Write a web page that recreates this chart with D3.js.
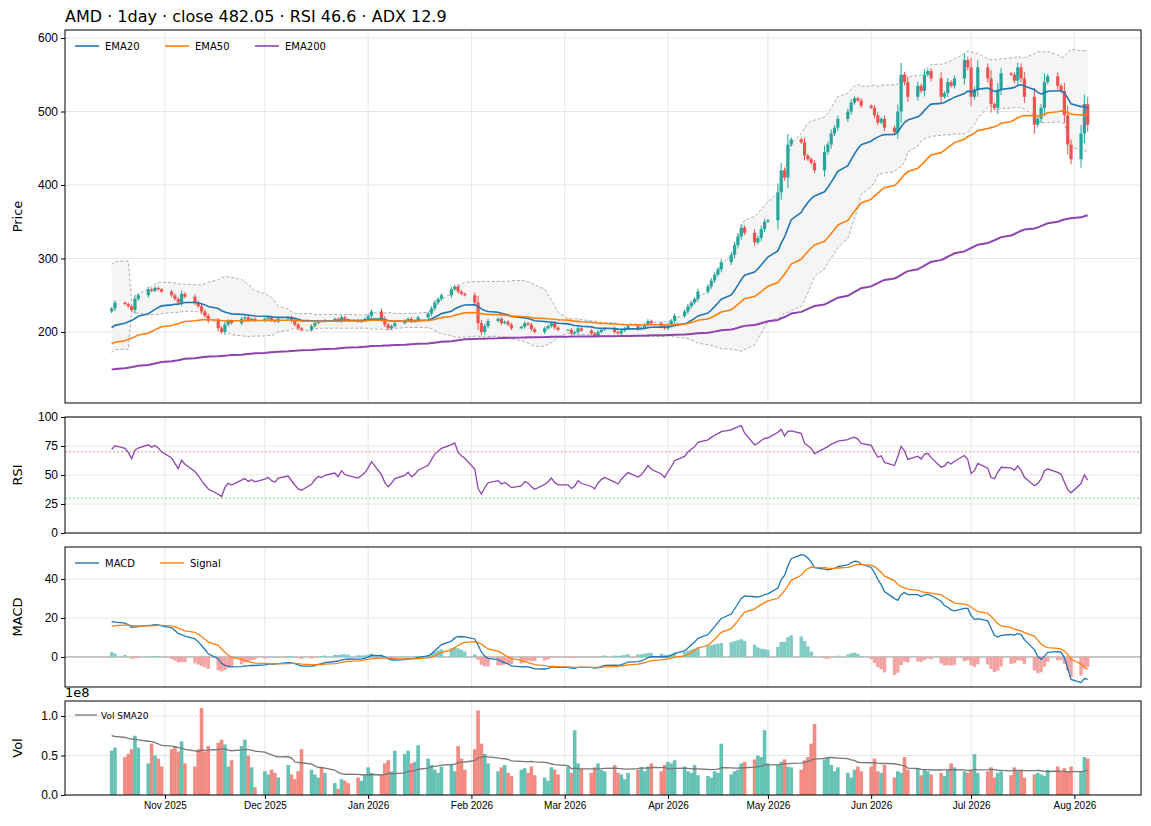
<!DOCTYPE html>
<html><head><meta charset="utf-8">
<script src="https://cdn.jsdelivr.net/npm/d3@7"></script>
<style>body{margin:0;background:#fff;font-family:"DejaVu Sans",sans-serif}</style>
</head><body><div id="chart"></div>
<script>
// daily closes per month (weekdays)
const months = [[2025,9,16],[2025,10,1],[2025,11,1],[2026,0,1],[2026,1,1],[2026,2,1],[2026,3,1],[2026,4,1],[2026,5,1],[2026,6,1],[2026,7,1]];
const closeOct = [232,240,238,235,230,245,250,258,256,260,258,255];
const closeNov = [250,245,240,252,248,240,235,228,222,215,205,200,210,215,212,218,220,216,218,215];
const closeDec = [218,220,216,214,218,220,215,210,205,203,208,212,215,214,216,218,215,220,217,216,214,216,218];
const closeJan = [222,228,218,210,205,208,212,215,218,214,216,220,225,232,240,245,250,258,262,255,252,250];
const closeFeb = [240,212,200,208,215,218,212,214,210,205,207,212,210,204,200,205,208,212,206,203];
const closeMar = [203,198,200,205,202,198,195,200,203,205,200,198,202,205,208,204,206,210,215,212,208,205];
const closeApr = [210,215,222,228,235,240,245,255,262,270,278,285,295,305,318,330,342,335,322,328,340,350];
const closeMay = [352,390,420,410,455,462,458,440,435,430,420,445,455,470,478,490,500,512,518,515,508];
const closeJun = [505,495,485,490,478,472,500,550,540,520,535,528,550,555,545,520,525,540,535,545,570,560];
const closeJul = [520,530,560,545,510,505,530,552,550,542,560,545,520,482,490,505,540,548,535,528,495,455,435];
const closeAug = [470,510,482.05];
// volume, millions
const volOct = [56,60,48,52,58,75,60,40,65,50,46,36];
const volNov = [58,62,55,68,40,36,58,110,55,62,66,70,64,36,44,62,70,50,35,10];
const volDec = [30,26,32,28,22,38,26,20,30,58,32,26,22,35,28,15,8,20,18,15,22,18,25];
const volJan = [35,28,25,40,44,30,56,52,56,40,42,63,46,38,32,28,36,38,30,62,46,32];
const volFeb = [58,107,65,52,40,30,35,38,28,24,32,34,28,36,25,22,18,35,32,26];
const volMar = [36,28,82,40,33,28,35,40,32,30,38,28,26,20,28,32,35,30,36,40,30,38];
const volApr = [42,40,44,36,30,28,38,25,24,22,30,28,65,26,30,32,40,42,45,50,48,82];
const volMay = [40,38,42,45,36,35,32,44,48,65,90,45,48,38,30,35,28,22,32,36,30];
const volJun = [36,46,30,28,38,22,30,28,48,32,34,25,32,30,26,28,24,32,40,35,30,28];
const volJul = [32,52,28,30,35,22,28,30,25,35,30,32,22,26,28,26,24,32,36,30,34,30,36];
const volAug = [30,48,46];
// indicator starting values read at the left edge
const seedEma = {e20: 203, e50: 182, e200: 148, e12: 225, e26: 206, sig: 15};
const seedRsi = {gain: 3.6, loss: 1.4};
const seedVolSma = 76;
const monthTicks = ["2025-11-01","2025-12-01","2026-01-01","2026-02-01","2026-03-01","2026-04-01","2026-05-01","2026-06-01","2026-07-01","2026-08-01"];

const closes = [closeOct,closeNov,closeDec,closeJan,closeFeb,closeMar,closeApr,closeMay,closeJun,closeJul,closeAug];
const vols = [volOct,volNov,volDec,volJan,volFeb,volMar,volApr,volMay,volJun,volJul,volAug];

const data = [];
closes.forEach((arr, mi) => {
  const [yr, mo, dd] = months[mi];
  let d = new Date(yr, mo, dd), k = 0;
  while (k < arr.length) {
    const wd = d.getDay();
    if (wd !== 0 && wd !== 6) { data.push({date: new Date(d), close: arr[k], vol: vols[mi][k] * 1e6}); k++; }
    d.setDate(d.getDate() + 1);
  }
});
data.forEach((p, i) => {
  p.open = i ? data[i-1].close : p.close - 4;
  const body = Math.abs(p.close - p.open);
  p.high = Math.max(p.open, p.close) + 1 + body * 0.3;
  p.low = Math.min(p.open, p.close) - 1 - body * 0.3;
});

// indicators
function ema(vals, n, seed) { const a = 2/(n+1); let e = seed; return vals.map(v => (e = e + a*(v - e))); }
const cl = data.map(d => d.close);
const ema20 = ema(cl, 20, seedEma.e20), ema50 = ema(cl, 50, seedEma.e50), ema200 = ema(cl, 200, seedEma.e200);
const e12 = ema(cl, 12, seedEma.e12), e26 = ema(cl, 26, seedEma.e26);
const macd = e12.map((v, i) => v - e26[i]);
const signal = ema(macd, 9, seedEma.sig);
let ag = seedRsi.gain, al = seedRsi.loss;
const rsi = cl.map((v, i) => {
  const ch = i ? v - cl[i-1] : 0;
  ag = (ag*13 + Math.max(ch,0))/14; al = (al*13 + Math.max(-ch,0))/14;
  return 100 - 100/(1 + ag/al);
});
const bb = cl.map((v, i) => {
  const w = cl.slice(Math.max(0, i-19), i+1);
  const m = d3.mean(w), s = Math.sqrt(d3.mean(w, x => (x-m)**2));
  const sd = i < 4 ? 30 : s;
  return {up: m + 2*sd, lo: m - 2*sd};
});
const volSma = data.map((d, i) => {
  const w = data.slice(Math.max(0, i-19), i+1).map(x => x.vol);
  return i < 19 ? (seedVolSma*1e6*(19-i) + d3.sum(w))/(20 - i + w.length - 1) * 1 : d3.mean(w);
});

const W = 1151, H = 826, L = 65, R = 1141;
const svg = d3.select("#chart").append("svg").attr("width", W).attr("height", H)
  .style("font-family", "DejaVu Sans, sans-serif");
const x = d3.scaleTime().domain([new Date(2025,9,2), new Date(2026,7,21)]).range([L, R]);
const ticks = monthTicks.map(s => new Date(s + "T00:00"));
const UP = "#26a69a", DN = "#ef5350";

function panel(top, bottom, domain, yticks, fmt, label) {
  const y = d3.scaleLinear().domain(domain).range([bottom, top]);
  const g = svg.append("g");
  g.selectAll(".vg").data(ticks).join("line").attr("x1", d => x(d)).attr("x2", d => x(d))
    .attr("y1", top).attr("y2", bottom).attr("stroke", "#e6e6e6");
  g.selectAll(".hg").data(yticks).join("line").attr("x1", L).attr("x2", R)
    .attr("y1", d => y(d)).attr("y2", d => y(d)).attr("stroke", "#e6e6e6");
  const ax = g.append("g").attr("transform", `translate(${L},0)`)
    .call(d3.axisLeft(y).tickValues(yticks).tickFormat(fmt).tickSize(4));
  ax.select(".domain").remove();
  ax.selectAll("text").attr("font-size", 12).attr("fill", "#000");
  svg.append("text").attr("transform", `translate(22,${(top+bottom)/2}) rotate(-90)`)
    .attr("text-anchor", "middle").attr("font-size", 13).text(label);
  return {y, frame: () => svg.append("rect").attr("x", L).attr("y", top).attr("width", R-L)
    .attr("height", bottom-top).attr("fill", "none").attr("stroke", "#000")};
}
const line = (y, vals) => d3.line().x((d, i) => x(data[i].date)).y((d, i) => y(vals[i]));

// price panel
const P = panel(30, 403, [103.4, 610.9], [200,300,400,500,600], d3.format("d"), "Price");
const clip = svg.append("clipPath").attr("id", "cp").append("rect").attr("x", L).attr("y", 30).attr("width", R-L).attr("height", 373);
const pg = svg.append("g").attr("clip-path", "url(#cp)");
pg.append("path").datum(data).attr("fill", "#f2f2f2").attr("opacity", 0.8)
  .attr("d", d3.area().x(d => x(d.date)).y0((d, i) => P.y(bb[i].lo)).y1((d, i) => P.y(bb[i].up)));
["up","lo"].forEach(k => pg.append("path").datum(data).attr("fill", "none").attr("stroke", "#999")
  .attr("stroke-width", 0.8).attr("stroke-dasharray", "3 2").attr("d", line(P.y, bb.map(b => b[k]))));
const cg = pg.selectAll(".c").data(data).join("g");
cg.append("line").attr("x1", d => x(d.date)).attr("x2", d => x(d.date))
  .attr("y1", d => P.y(d.high)).attr("y2", d => P.y(d.low))
  .attr("stroke", d => d.close >= d.open ? UP : DN).attr("stroke-width", 1);
cg.append("rect").attr("x", d => x(d.date) - 1.6).attr("width", 3.2)
  .attr("y", d => P.y(Math.max(d.open, d.close)))
  .attr("height", d => Math.max(1, Math.abs(P.y(d.open) - P.y(d.close))))
  .attr("fill", d => d.close >= d.open ? UP : DN);
const emaDefs = [["EMA20", ema20, "#1f77b4"], ["EMA50", ema50, "#ff7f0e"], ["EMA200", ema200, "#8e44ad"]];
emaDefs.forEach(([n, v, c]) => pg.append("path").datum(data).attr("fill", "none").attr("stroke", c)
  .attr("stroke-width", n === "EMA200" ? 2 : 1.6).attr("d", line(P.y, v)));
P.frame();
let lx = 75;
emaDefs.forEach(([n, v, c], i) => {
  svg.append("line").attr("x1", lx).attr("x2", lx+24).attr("y1", 46).attr("y2", 46).attr("stroke", c).attr("stroke-width", 1.6);
  svg.append("text").attr("x", lx+30).attr("y", 49.5).attr("font-size", 10).text(n);
  lx += [90, 90, 0][i];
});
svg.append("text").attr("x", L).attr("y", 22).attr("font-size", 16)
  .text(`AMD  ·  1day  ·  close ${cl[cl.length-1].toFixed(2)}  ·  RSI 46.6  ·  ADX 12.9`);

// RSI
const Rp = panel(417, 533, [0, 100], [0,25,50,75,100], d3.format("d"), "RSI");
[[70, "#e57373"], [30, "#66bb6a"]].forEach(([v, c]) => svg.append("line").attr("x1", L).attr("x2", R)
  .attr("y1", Rp.y(v)).attr("y2", Rp.y(v)).attr("stroke", c).attr("stroke-width", 0.8).attr("stroke-dasharray", "2 2"));
svg.append("path").datum(data).attr("fill", "none").attr("stroke", "#8e44ad").attr("stroke-width", 1.3).attr("d", line(Rp.y, rsi));
Rp.frame();

// MACD
const M = panel(547, 687, [-15.4, 56.4], [0,20,40], d3.format("d"), "MACD");
svg.append("line").attr("x1", L).attr("x2", R).attr("y1", M.y(0)).attr("y2", M.y(0)).attr("stroke", "#888").attr("stroke-width", 0.8);
svg.append("g").selectAll("rect").data(data).join("rect")
  .attr("x", d => x(d.date) - 1.7).attr("width", 3.4)
  .attr("y", (d, i) => M.y(Math.max(0, macd[i]-signal[i])))
  .attr("height", (d, i) => Math.abs(M.y(0) - M.y(macd[i]-signal[i])))
  .attr("fill", (d, i) => macd[i]-signal[i] >= 0 ? "#80cbc4" : "#f4a3a3");
svg.append("path").datum(data).attr("fill", "none").attr("stroke", "#1f77b4").attr("stroke-width", 1.3).attr("d", line(M.y, macd));
svg.append("path").datum(data).attr("fill", "none").attr("stroke", "#ff7f0e").attr("stroke-width", 1.3).attr("d", line(M.y, signal));
M.frame();
[["MACD", "#1f77b4", 75], ["Signal", "#ff7f0e", 160]].forEach(([n, c, px]) => {
  svg.append("line").attr("x1", px).attr("x2", px+24).attr("y1", 563).attr("y2", 563).attr("stroke", c).attr("stroke-width", 1.4);
  svg.append("text").attr("x", px+30).attr("y", 566.5).attr("font-size", 10).text(n);
});

// Volume
const V = panel(701, 795, [0, 1.19e8], [0, 0.5e8, 1e8], d => (d/1e8).toFixed(1), "Vol");
svg.append("g").selectAll("rect").data(data).join("rect")
  .attr("x", d => x(d.date) - 1.8).attr("width", 3.6)
  .attr("y", d => V.y(d.vol)).attr("height", d => V.y(0) - V.y(d.vol))
  .attr("fill", d => d.close >= d.open ? "#66c2b4" : "#f28b82");
svg.append("path").datum(data).attr("fill", "none").attr("stroke", "#777").attr("stroke-width", 1.3).attr("d", line(V.y, volSma));
V.frame();
svg.append("line").attr("x1", 75).attr("x2", 97).attr("y1", 715).attr("y2", 715).attr("stroke", "#777").attr("stroke-width", 1.3);
svg.append("text").attr("x", 101).attr("y", 718.5).attr("font-size", 9).text("Vol SMA20");
svg.append("text").attr("x", L).attr("y", 697).attr("font-size", 13).text("1e8");
const xa = svg.append("g").attr("transform", "translate(0,795)")
  .call(d3.axisBottom(x).tickValues(ticks).tickFormat(d3.timeFormat("%b %Y")).tickSize(4));
xa.select(".domain").remove();
xa.selectAll("text").attr("font-size", 10).attr("fill", "#000");
</script></body></html>
